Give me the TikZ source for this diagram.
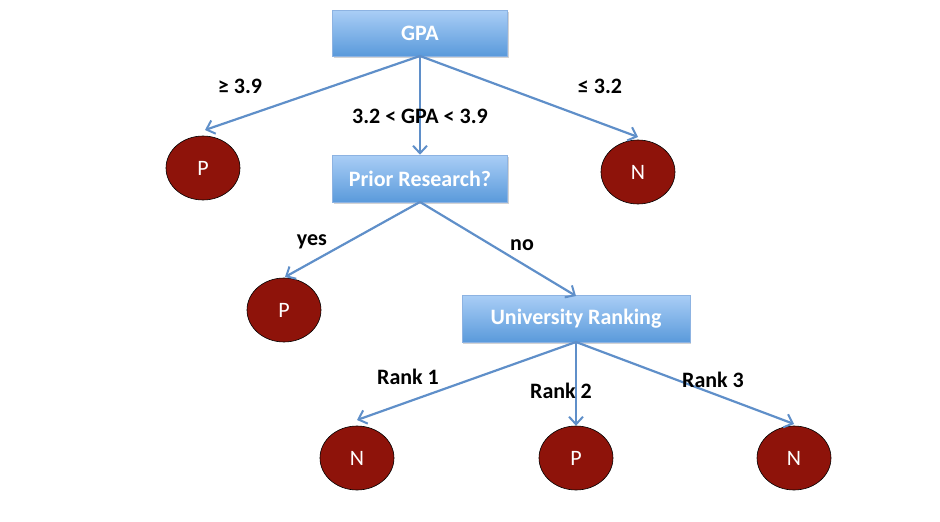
\documentclass[tikz,border=0pt]{standalone}
\usepackage{fontspec}
\setmainfont{Carlito}
\usetikzlibrary{arrows.meta,shapes.geometric,shadows}
\definecolor{boxtop}{HTML}{AACEF6}
\definecolor{boxbot}{HTML}{5A9ADB}
\definecolor{boxline}{HTML}{8DB3E2}
\definecolor{leafred}{HTML}{8E130A}
\definecolor{edgeblue}{HTML}{5F8FC9}
\tikzset{
  decbox/.style={rectangle, draw=boxline, line width=0.6pt, top color=boxtop, bottom color=boxbot,
    text=white, font=\bfseries\fontsize{22}{26}\selectfont, inner sep=0pt,
    drop shadow={shadow xshift=1pt, shadow yshift=-1.5pt, opacity=0.35}},
  leaf/.style={ellipse, draw=black, line width=0.6pt, fill=leafred, text=white,
    minimum width=74pt, minimum height=64pt, inner sep=0pt, font=\fontsize{22}{26}\selectfont},
  edge/.style={draw=edgeblue, line width=2.2pt, -{Straight Barb[length=7.5pt,width=14pt,line width=2pt]}},
  elabel/.style={font=\bfseries\fontsize{22}{26}\selectfont, text=black}
}
\begin{document}
\begin{tikzpicture}[x=1pt,y=-1pt]
\useasboundingbox (0,0) rectangle (940,522);
\node[decbox, minimum width=175pt, minimum height=46pt] (gpa) at (420,33) {GPA};
\node[decbox, minimum width=175pt, minimum height=47pt] (prior) at (420,178.5) {Prior Research?};
\node[decbox, minimum width=228pt, minimum height=47pt] (uni) at (576,318.5) {University Ranking};
\node[leaf] (p1) at (203,168) {P};
\node[leaf] (n1) at (638,172) {N};
\node[leaf] (p2) at (284,310) {P};
\node[leaf] (n2) at (357,458) {N};
\node[leaf] (p3) at (576,458) {P};
\node[leaf] (n3) at (794,458) {N};
\coordinate (gpab) at (420,56);
\coordinate (priorb) at (420,202);
\coordinate (unib) at (576,342);
\draw[edge] (gpab) -- (205,130);
\draw[edge] (gpab) -- (638,137);
\draw[edge] (gpab) -- (prior.north);
\draw[edge] (priorb) -- (285,277);
\draw[edge] (priorb) -- (576,296);
\draw[edge] (unib) -- (357,420);
\draw[edge] (unib) -- (p3.north);
\draw[edge] (unib) -- (794,424);
\node[elabel] (l1) at (240,86) {≥ 3.9};
\node[elabel] (l2) at (420,116) {3.2 < GPA < 3.9};
\node[elabel] (l3) at (600,86) {≤ 3.2};
\node[elabel] (l4) at (312,242) {yes};
\node[elabel] (l5) at (522,245) {no};
\node[elabel] (l6) at (408,377) {Rank 1};
\node[elabel] (l7) at (561,391) {Rank 2};
\node[elabel] (l8) at (713,380) {Rank 3};
\end{tikzpicture}
\end{document}
